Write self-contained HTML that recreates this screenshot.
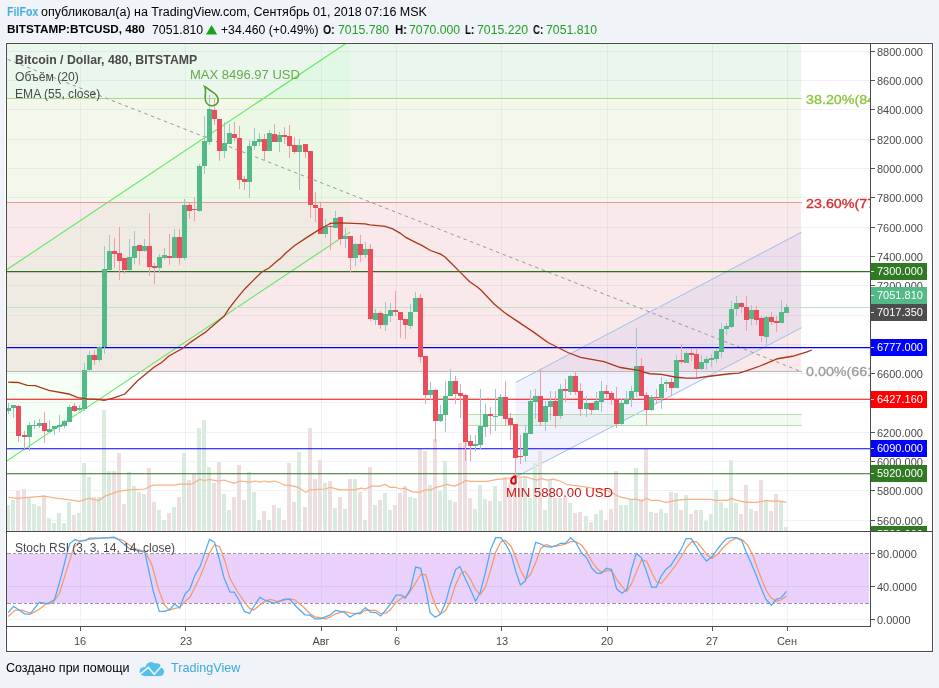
<!DOCTYPE html><html><head><meta charset="utf-8"><style>
*{margin:0;padding:0}
html,body{width:939px;height:688px;overflow:hidden;background:#f0f3f7;font-family:"Liberation Sans",sans-serif;position:relative}
.t{position:absolute;white-space:nowrap;line-height:1;will-change:transform}
</style></head><body>
<svg style="position:absolute;left:0;top:0" width="939" height="688" viewBox="0 0 939 688"><rect x="5" y="42" width="929" height="611" fill="#ffffff"/><rect x="7" y="44" width="794" height="54" fill="#e9f7ec"/><rect x="7" y="98" width="794" height="104" fill="#f4f8eb"/><rect x="7" y="202" width="794" height="170" fill="#f9e9ea"/><g shape-rendering="crispEdges" stroke="rgba(140,155,175,0.13)" stroke-width="1"><line x1="7" x2="870" y1="520.5" y2="520.5"/><line x1="7" x2="870" y1="490.5" y2="490.5"/><line x1="7" x2="870" y1="461.5" y2="461.5"/><line x1="7" x2="870" y1="432.5" y2="432.5"/><line x1="7" x2="870" y1="402.5" y2="402.5"/><line x1="7" x2="870" y1="373.5" y2="373.5"/><line x1="7" x2="870" y1="344.5" y2="344.5"/><line x1="7" x2="870" y1="315.5" y2="315.5"/><line x1="7" x2="870" y1="285.5" y2="285.5"/><line x1="7" x2="870" y1="256.5" y2="256.5"/><line x1="7" x2="870" y1="227.5" y2="227.5"/><line x1="7" x2="870" y1="197.5" y2="197.5"/><line x1="7" x2="870" y1="168.5" y2="168.5"/><line x1="7" x2="870" y1="139.5" y2="139.5"/><line x1="7" x2="870" y1="109.5" y2="109.5"/><line x1="7" x2="870" y1="80.5" y2="80.5"/><line x1="7" x2="870" y1="51.5" y2="51.5"/><line x1="80.5" x2="80.5" y1="44" y2="626"/><line x1="185.5" x2="185.5" y1="44" y2="626"/><line x1="321.5" x2="321.5" y1="44" y2="626"/><line x1="396.5" x2="396.5" y1="44" y2="626"/><line x1="501.5" x2="501.5" y1="44" y2="626"/><line x1="607.5" x2="607.5" y1="44" y2="626"/><line x1="712.5" x2="712.5" y1="44" y2="626"/><line x1="787.5" x2="787.5" y1="44" y2="626"/></g><clipPath id="pc"><rect x="7" y="44" width="863" height="487"/></clipPath><g clip-path="url(#pc)"><polygon points="7,269.50 350,40.72 350,232.12 7,460.90" fill="rgba(175,255,170,0.12)"/><line x1="7" y1="269.50" x2="350" y2="40.72" stroke="#5ee85e" stroke-width="1.1"/><line x1="7" y1="460.90" x2="350" y2="232.12" stroke="#5ee85e" stroke-width="1.1"/><polygon points="515.6,382.50 801.5,232.23 801.5,327.76 515.6,477.00" fill="rgba(110,110,240,0.09)"/><line x1="515.6" y1="382.50" x2="801.5" y2="232.23" stroke="#9cc0ea" stroke-width="1"/><line x1="515.6" y1="477.00" x2="801.5" y2="327.76" stroke="#9cc0ea" stroke-width="1"/><rect x="468" y="414.5" width="333.5" height="10.5" fill="rgba(120,220,120,0.10)"/><line x1="468" x2="801.5" y1="414.5" y2="414.5" stroke="#b5dcaa" stroke-width="1"/><line x1="468" x2="801.5" y1="425.5" y2="425.5" stroke="#b5dcaa" stroke-width="1"/><g shape-rendering="crispEdges"><line x1="7" x2="801.5" y1="98.5" y2="98.5" stroke="#addb7a"/><line x1="7" x2="801.5" y1="202.5" y2="202.5" stroke="#e89a9a"/><line x1="7" x2="801.5" y1="371.5" y2="371.5" stroke="#b8b8b8"/></g><g shape-rendering="crispEdges"><rect x="7" y="505" width="3" height="26" fill="#d9eadf"/><rect x="11" y="500" width="4" height="31" fill="#d9eadf"/><rect x="16" y="491" width="4" height="40" fill="#eddfe0"/><rect x="22" y="489" width="4" height="42" fill="#eddfe0"/><rect x="27" y="498" width="4" height="33" fill="#d9eadf"/><rect x="32" y="504" width="4" height="27" fill="#d9eadf"/><rect x="37" y="506" width="4" height="25" fill="#d9eadf"/><rect x="42" y="495" width="4" height="36" fill="#eddfe0"/><rect x="47" y="518" width="4" height="13" fill="#d9eadf"/><rect x="52" y="523" width="4" height="8" fill="#d9eadf"/><rect x="57" y="513" width="4" height="18" fill="#d9eadf"/><rect x="62" y="523" width="4" height="8" fill="#d9eadf"/><rect x="67" y="502" width="4" height="29" fill="#d9eadf"/><rect x="72" y="515" width="4" height="16" fill="#eddfe0"/><rect x="77" y="513" width="4" height="18" fill="#d9eadf"/><rect x="82" y="463" width="4" height="68" fill="#d9eadf"/><rect x="87" y="477" width="4" height="54" fill="#d9eadf"/><rect x="92" y="497" width="4" height="34" fill="#eddfe0"/><rect x="97" y="497" width="4" height="34" fill="#d9eadf"/><rect x="102" y="410" width="4" height="121" fill="#d9eadf"/><rect x="107" y="471" width="4" height="60" fill="#d9eadf"/><rect x="112" y="471" width="4" height="60" fill="#eddfe0"/><rect x="117" y="453" width="4" height="78" fill="#eddfe0"/><rect x="122" y="504" width="4" height="27" fill="#eddfe0"/><rect x="127" y="472" width="4" height="59" fill="#d9eadf"/><rect x="132" y="486" width="4" height="45" fill="#d9eadf"/><rect x="137" y="492" width="4" height="39" fill="#eddfe0"/><rect x="142" y="494" width="4" height="37" fill="#d9eadf"/><rect x="147" y="468" width="4" height="63" fill="#eddfe0"/><rect x="152" y="502" width="4" height="29" fill="#eddfe0"/><rect x="157" y="510" width="4" height="21" fill="#d9eadf"/><rect x="162" y="520" width="4" height="11" fill="#d9eadf"/><rect x="167" y="513" width="4" height="18" fill="#eddfe0"/><rect x="172" y="507" width="4" height="24" fill="#d9eadf"/><rect x="177" y="497" width="4" height="34" fill="#eddfe0"/><rect x="182" y="453" width="4" height="78" fill="#d9eadf"/><rect x="187" y="480" width="4" height="51" fill="#eddfe0"/><rect x="192" y="474" width="4" height="57" fill="#eddfe0"/><rect x="197" y="428" width="4" height="103" fill="#d9eadf"/><rect x="202" y="420" width="4" height="111" fill="#d9eadf"/><rect x="207" y="467" width="4" height="64" fill="#d9eadf"/><rect x="212" y="483" width="4" height="48" fill="#eddfe0"/><rect x="217" y="462" width="4" height="69" fill="#eddfe0"/><rect x="222" y="494" width="4" height="37" fill="#d9eadf"/><rect x="227" y="510" width="4" height="21" fill="#d9eadf"/><rect x="232" y="497" width="4" height="34" fill="#eddfe0"/><rect x="237" y="465" width="4" height="66" fill="#eddfe0"/><rect x="242" y="500" width="4" height="31" fill="#eddfe0"/><rect x="247" y="472" width="4" height="59" fill="#d9eadf"/><rect x="252" y="492" width="4" height="39" fill="#d9eadf"/><rect x="257" y="520" width="4" height="11" fill="#d9eadf"/><rect x="262" y="511" width="4" height="20" fill="#eddfe0"/><rect x="267" y="520" width="4" height="11" fill="#d9eadf"/><rect x="272" y="505" width="4" height="26" fill="#eddfe0"/><rect x="277" y="508" width="4" height="23" fill="#d9eadf"/><rect x="282" y="520" width="4" height="11" fill="#eddfe0"/><rect x="287" y="463" width="4" height="68" fill="#eddfe0"/><rect x="292" y="502" width="4" height="29" fill="#eddfe0"/><rect x="297" y="452" width="4" height="79" fill="#d9eadf"/><rect x="303" y="507" width="4" height="24" fill="#eddfe0"/><rect x="308" y="428" width="4" height="103" fill="#eddfe0"/><rect x="313" y="479" width="4" height="52" fill="#eddfe0"/><rect x="318" y="460" width="4" height="71" fill="#eddfe0"/><rect x="323" y="483" width="4" height="48" fill="#d9eadf"/><rect x="328" y="481" width="4" height="50" fill="#eddfe0"/><rect x="333" y="508" width="4" height="23" fill="#d9eadf"/><rect x="338" y="497" width="4" height="34" fill="#eddfe0"/><rect x="343" y="509" width="4" height="22" fill="#d9eadf"/><rect x="348" y="479" width="4" height="52" fill="#eddfe0"/><rect x="353" y="479" width="4" height="52" fill="#d9eadf"/><rect x="358" y="492" width="4" height="39" fill="#eddfe0"/><rect x="363" y="520" width="4" height="11" fill="#d9eadf"/><rect x="368" y="467" width="4" height="64" fill="#eddfe0"/><rect x="373" y="505" width="4" height="26" fill="#d9eadf"/><rect x="378" y="500" width="4" height="31" fill="#eddfe0"/><rect x="383" y="493" width="4" height="38" fill="#d9eadf"/><rect x="388" y="510" width="4" height="21" fill="#d9eadf"/><rect x="393" y="505" width="4" height="26" fill="#eddfe0"/><rect x="398" y="493" width="4" height="38" fill="#eddfe0"/><rect x="403" y="486" width="4" height="45" fill="#eddfe0"/><rect x="408" y="497" width="4" height="34" fill="#d9eadf"/><rect x="413" y="498" width="4" height="33" fill="#d9eadf"/><rect x="418" y="449" width="4" height="82" fill="#eddfe0"/><rect x="423" y="451" width="4" height="80" fill="#eddfe0"/><rect x="428" y="485" width="4" height="46" fill="#d9eadf"/><rect x="433" y="439" width="4" height="92" fill="#eddfe0"/><rect x="438" y="491" width="4" height="40" fill="#d9eadf"/><rect x="443" y="461" width="4" height="70" fill="#d9eadf"/><rect x="448" y="500" width="4" height="31" fill="#d9eadf"/><rect x="453" y="502" width="4" height="29" fill="#eddfe0"/><rect x="458" y="443" width="4" height="88" fill="#eddfe0"/><rect x="463" y="442" width="4" height="89" fill="#eddfe0"/><rect x="468" y="498" width="4" height="33" fill="#eddfe0"/><rect x="473" y="509" width="4" height="22" fill="#d9eadf"/><rect x="478" y="485" width="4" height="46" fill="#d9eadf"/><rect x="483" y="499" width="4" height="32" fill="#d9eadf"/><rect x="488" y="501" width="4" height="30" fill="#eddfe0"/><rect x="493" y="486" width="4" height="45" fill="#d9eadf"/><rect x="498" y="501" width="4" height="30" fill="#d9eadf"/><rect x="503" y="477" width="4" height="54" fill="#eddfe0"/><rect x="508" y="483" width="4" height="48" fill="#eddfe0"/><rect x="513" y="474" width="4" height="57" fill="#eddfe0"/><rect x="518" y="477" width="4" height="54" fill="#eddfe0"/><rect x="523" y="476" width="4" height="55" fill="#d9eadf"/><rect x="528" y="498" width="4" height="33" fill="#d9eadf"/><rect x="533" y="463" width="4" height="68" fill="#d9eadf"/><rect x="538" y="451" width="4" height="80" fill="#eddfe0"/><rect x="543" y="510" width="4" height="21" fill="#d9eadf"/><rect x="548" y="480" width="4" height="51" fill="#d9eadf"/><rect x="553" y="498" width="4" height="33" fill="#eddfe0"/><rect x="558" y="498" width="4" height="33" fill="#d9eadf"/><rect x="563" y="497" width="4" height="34" fill="#eddfe0"/><rect x="568" y="503" width="4" height="28" fill="#d9eadf"/><rect x="573" y="513" width="4" height="18" fill="#eddfe0"/><rect x="578" y="512" width="4" height="19" fill="#eddfe0"/><rect x="584" y="516" width="4" height="15" fill="#d9eadf"/><rect x="589" y="522" width="4" height="9" fill="#eddfe0"/><rect x="594" y="514" width="4" height="17" fill="#d9eadf"/><rect x="599" y="510" width="4" height="21" fill="#d9eadf"/><rect x="604" y="520" width="4" height="11" fill="#eddfe0"/><rect x="609" y="509" width="4" height="22" fill="#eddfe0"/><rect x="614" y="471" width="4" height="60" fill="#eddfe0"/><rect x="619" y="505" width="4" height="26" fill="#d9eadf"/><rect x="624" y="505" width="4" height="26" fill="#d9eadf"/><rect x="629" y="500" width="4" height="31" fill="#d9eadf"/><rect x="634" y="468" width="4" height="63" fill="#d9eadf"/><rect x="639" y="499" width="4" height="32" fill="#eddfe0"/><rect x="644" y="449" width="4" height="82" fill="#eddfe0"/><rect x="649" y="512" width="4" height="19" fill="#d9eadf"/><rect x="654" y="513" width="4" height="18" fill="#eddfe0"/><rect x="659" y="509" width="4" height="22" fill="#d9eadf"/><rect x="664" y="513" width="4" height="18" fill="#d9eadf"/><rect x="669" y="492" width="4" height="39" fill="#eddfe0"/><rect x="674" y="493" width="4" height="38" fill="#d9eadf"/><rect x="679" y="510" width="4" height="21" fill="#eddfe0"/><rect x="684" y="495" width="4" height="36" fill="#d9eadf"/><rect x="689" y="514" width="4" height="17" fill="#eddfe0"/><rect x="694" y="510" width="4" height="21" fill="#eddfe0"/><rect x="699" y="510" width="4" height="21" fill="#d9eadf"/><rect x="704" y="521" width="4" height="10" fill="#d9eadf"/><rect x="709" y="514" width="4" height="17" fill="#d9eadf"/><rect x="714" y="490" width="4" height="41" fill="#d9eadf"/><rect x="719" y="502" width="4" height="29" fill="#d9eadf"/><rect x="724" y="508" width="4" height="23" fill="#d9eadf"/><rect x="729" y="460" width="4" height="71" fill="#d9eadf"/><rect x="734" y="503" width="4" height="28" fill="#d9eadf"/><rect x="739" y="514" width="4" height="17" fill="#eddfe0"/><rect x="744" y="485" width="4" height="46" fill="#eddfe0"/><rect x="749" y="509" width="4" height="22" fill="#d9eadf"/><rect x="754" y="511" width="4" height="20" fill="#eddfe0"/><rect x="759" y="480" width="4" height="51" fill="#eddfe0"/><rect x="764" y="501" width="4" height="30" fill="#d9eadf"/><rect x="769" y="511" width="4" height="20" fill="#eddfe0"/><rect x="774" y="494" width="4" height="37" fill="#eddfe0"/><rect x="779" y="502" width="4" height="29" fill="#d9eadf"/><rect x="784" y="527" width="4" height="4" fill="#d9eadf"/></g><polyline points="8.50,497.40 17.00,498.40 29.00,497.40 43.40,496.20 58.00,498.40 68.00,499.60 79.20,501.30 88.60,498.40 98.80,500.50 105.60,495.90 119.20,491.10 129.50,489.90 144.80,489.00 153.30,485.10 160.00,485.10 175.40,485.20 178.90,484.20 190.80,484.20 195.00,482.20 199.60,479.30 204.40,480.50 209.50,479.30 218.00,481.00 224.00,480.00 234.20,483.40 240.20,481.00 250.40,482.20 255.50,481.00 259.80,482.20 264.00,481.00 269.10,482.20 274.30,481.00 279.40,482.70 284.50,485.20 291.30,485.60 298.10,487.30 305.80,492.40 310.00,489.80 325.30,489.00 330.40,487.30 339.80,489.80 354.30,489.80 361.10,488.10 365.40,489.00 371.30,486.10 379.80,486.10 385.00,484.40 390.10,487.30 395.20,487.30 400.30,489.00 404.50,488.10 412.20,491.90 419.00,492.40 425.80,489.80 431.00,489.80 436.00,487.30 441.20,486.10 446.30,484.40 454.80,486.10 459.90,483.90 465.90,480.50 470.00,481.30 475.20,481.30 487.10,481.30 495.70,479.60 507.60,478.40 516.10,477.00 526.30,477.00 533.10,479.10 536.60,480.10 541.70,478.70 546.80,480.10 553.60,479.10 560.40,481.30 567.20,484.70 577.40,485.90 587.70,487.30 597.90,489.00 608.10,490.70 615.00,494.50 620.90,497.20 630.80,499.40 636.70,499.40 641.60,501.20 646.50,498.40 651.40,500.40 658.30,500.40 666.20,502.30 676.10,500.40 685.90,499.40 711.50,499.40 715.50,500.40 727.30,500.40 731.20,498.40 737.10,500.40 746.00,502.30 756.80,502.30 766.70,500.40 772.60,501.20 780.50,501.20 786.40,502.30" fill="none" stroke="#f6b183" stroke-width="1.2"/><line x1="7.5" y1="59.4" x2="798.75" y2="370.6" stroke="#999" stroke-width="1" stroke-dasharray="3.5 3.5"/><g shape-rendering="crispEdges"><line x1="7" x2="870" y1="307.5" y2="307.5" stroke="#bfe0c8"/></g><line x1="7" x2="870" y1="271.6" y2="271.6" stroke="#2e7020" stroke-width="1.1"/><line x1="7" x2="870" y1="347.6" y2="347.6" stroke="#0000ff" stroke-width="1.1"/><line x1="7" x2="870" y1="399.3" y2="399.3" stroke="#ff0000" stroke-width="1.1"/><line x1="7" x2="870" y1="448.7" y2="448.7" stroke="#0000ff" stroke-width="1.1"/><line x1="7" x2="870" y1="473.7" y2="473.7" stroke="#2e7020" stroke-width="1.1"/><g shape-rendering="crispEdges"><rect x="8" y="403" width="1" height="11" fill="#9fc6cf"/><rect x="7" y="408" width="4" height="3" fill="#53b987"/><rect x="13" y="405" width="1" height="13" fill="#9fc6cf"/><rect x="11" y="405" width="5" height="3" fill="#53b987"/><rect x="18" y="405" width="1" height="37" fill="#f29ea8"/><rect x="16" y="406" width="5" height="30" fill="#eb4d5c"/><rect x="24" y="431" width="1" height="18" fill="#f29ea8"/><rect x="22" y="435" width="5" height="2" fill="#eb4d5c"/><rect x="29" y="422" width="1" height="29" fill="#9fc6cf"/><rect x="27" y="425" width="5" height="12" fill="#53b987"/><rect x="34" y="420" width="1" height="9" fill="#9fc6cf"/><rect x="32" y="425" width="5" height="1" fill="#53b987"/><rect x="39" y="419" width="1" height="9" fill="#9fc6cf"/><rect x="37" y="423" width="5" height="3" fill="#53b987"/><rect x="44" y="412" width="1" height="31" fill="#f29ea8"/><rect x="42" y="423" width="5" height="8" fill="#eb4d5c"/><rect x="49" y="420" width="1" height="12" fill="#9fc6cf"/><rect x="47" y="429" width="5" height="3" fill="#53b987"/><rect x="54" y="426" width="1" height="9" fill="#9fc6cf"/><rect x="52" y="426" width="5" height="3" fill="#53b987"/><rect x="59" y="415" width="1" height="17" fill="#9fc6cf"/><rect x="57" y="425" width="5" height="2" fill="#53b987"/><rect x="64" y="420" width="1" height="8" fill="#9fc6cf"/><rect x="62" y="421" width="5" height="5" fill="#53b987"/><rect x="69" y="405" width="1" height="17" fill="#9fc6cf"/><rect x="67" y="407" width="5" height="15" fill="#53b987"/><rect x="74" y="403" width="1" height="9" fill="#f29ea8"/><rect x="72" y="406" width="5" height="5" fill="#eb4d5c"/><rect x="79" y="405" width="1" height="6" fill="#9fc6cf"/><rect x="77" y="408" width="5" height="2" fill="#53b987"/><rect x="84" y="363" width="1" height="48" fill="#9fc6cf"/><rect x="82" y="370" width="5" height="39" fill="#53b987"/><rect x="89" y="351" width="1" height="20" fill="#9fc6cf"/><rect x="87" y="355" width="5" height="15" fill="#53b987"/><rect x="94" y="350" width="1" height="15" fill="#f29ea8"/><rect x="92" y="355" width="5" height="5" fill="#eb4d5c"/><rect x="99" y="346" width="1" height="16" fill="#9fc6cf"/><rect x="97" y="347" width="5" height="13" fill="#53b987"/><rect x="104" y="246" width="1" height="108" fill="#9fc6cf"/><rect x="102" y="269" width="5" height="78" fill="#53b987"/><rect x="109" y="235" width="1" height="35" fill="#9fc6cf"/><rect x="107" y="251" width="5" height="19" fill="#53b987"/><rect x="114" y="238" width="1" height="30" fill="#f29ea8"/><rect x="112" y="251" width="5" height="3" fill="#eb4d5c"/><rect x="119" y="227" width="1" height="53" fill="#f29ea8"/><rect x="117" y="253" width="5" height="8" fill="#eb4d5c"/><rect x="124" y="258" width="1" height="16" fill="#f29ea8"/><rect x="122" y="258" width="5" height="12" fill="#eb4d5c"/><rect x="129" y="239" width="1" height="32" fill="#9fc6cf"/><rect x="127" y="257" width="5" height="13" fill="#53b987"/><rect x="134" y="231" width="1" height="33" fill="#9fc6cf"/><rect x="132" y="246" width="5" height="12" fill="#53b987"/><rect x="139" y="245" width="1" height="20" fill="#f29ea8"/><rect x="137" y="245" width="5" height="6" fill="#eb4d5c"/><rect x="144" y="239" width="1" height="13" fill="#9fc6cf"/><rect x="142" y="246" width="5" height="5" fill="#53b987"/><rect x="149" y="213" width="1" height="63" fill="#f29ea8"/><rect x="147" y="246" width="5" height="21" fill="#eb4d5c"/><rect x="154" y="263" width="1" height="21" fill="#f29ea8"/><rect x="152" y="266" width="5" height="2" fill="#eb4d5c"/><rect x="159" y="254" width="1" height="19" fill="#9fc6cf"/><rect x="157" y="257" width="5" height="11" fill="#53b987"/><rect x="164" y="248" width="1" height="12" fill="#9fc6cf"/><rect x="162" y="255" width="5" height="3" fill="#53b987"/><rect x="169" y="234" width="1" height="31" fill="#f29ea8"/><rect x="167" y="256" width="5" height="2" fill="#eb4d5c"/><rect x="174" y="229" width="1" height="29" fill="#9fc6cf"/><rect x="172" y="237" width="5" height="21" fill="#53b987"/><rect x="179" y="229" width="1" height="36" fill="#f29ea8"/><rect x="177" y="237" width="5" height="21" fill="#eb4d5c"/><rect x="184" y="199" width="1" height="61" fill="#9fc6cf"/><rect x="182" y="205" width="5" height="53" fill="#53b987"/><rect x="189" y="203" width="1" height="16" fill="#f29ea8"/><rect x="187" y="205" width="5" height="6" fill="#eb4d5c"/><rect x="194" y="197" width="1" height="24" fill="#f29ea8"/><rect x="192" y="209" width="5" height="1" fill="#eb4d5c"/><rect x="199" y="164" width="1" height="48" fill="#9fc6cf"/><rect x="197" y="166" width="5" height="45" fill="#53b987"/><rect x="204" y="116" width="1" height="58" fill="#9fc6cf"/><rect x="202" y="141" width="5" height="25" fill="#53b987"/><rect x="209" y="95" width="1" height="50" fill="#9fc6cf"/><rect x="207" y="109" width="5" height="33" fill="#53b987"/><rect x="214" y="99" width="1" height="26" fill="#f29ea8"/><rect x="212" y="110" width="5" height="9" fill="#eb4d5c"/><rect x="219" y="119" width="1" height="42" fill="#f29ea8"/><rect x="217" y="119" width="5" height="32" fill="#eb4d5c"/><rect x="224" y="122" width="1" height="36" fill="#9fc6cf"/><rect x="222" y="143" width="5" height="8" fill="#53b987"/><rect x="229" y="124" width="1" height="20" fill="#9fc6cf"/><rect x="227" y="133" width="5" height="11" fill="#53b987"/><rect x="234" y="122" width="1" height="19" fill="#f29ea8"/><rect x="232" y="134" width="5" height="4" fill="#eb4d5c"/><rect x="239" y="126" width="1" height="63" fill="#f29ea8"/><rect x="237" y="138" width="5" height="42" fill="#eb4d5c"/><rect x="244" y="176" width="1" height="14" fill="#f29ea8"/><rect x="242" y="179" width="5" height="3" fill="#eb4d5c"/><rect x="249" y="140" width="1" height="58" fill="#9fc6cf"/><rect x="247" y="146" width="5" height="36" fill="#53b987"/><rect x="254" y="128" width="1" height="22" fill="#9fc6cf"/><rect x="252" y="141" width="5" height="5" fill="#53b987"/><rect x="259" y="133" width="1" height="13" fill="#9fc6cf"/><rect x="257" y="139" width="5" height="3" fill="#53b987"/><rect x="264" y="134" width="1" height="27" fill="#f29ea8"/><rect x="262" y="139" width="5" height="12" fill="#eb4d5c"/><rect x="269" y="130" width="1" height="21" fill="#9fc6cf"/><rect x="267" y="133" width="5" height="18" fill="#53b987"/><rect x="274" y="124" width="1" height="18" fill="#f29ea8"/><rect x="272" y="134" width="5" height="8" fill="#eb4d5c"/><rect x="279" y="132" width="1" height="20" fill="#9fc6cf"/><rect x="277" y="135" width="5" height="7" fill="#53b987"/><rect x="284" y="127" width="1" height="17" fill="#f29ea8"/><rect x="282" y="135" width="5" height="2" fill="#eb4d5c"/><rect x="289" y="125" width="1" height="33" fill="#f29ea8"/><rect x="287" y="136" width="5" height="10" fill="#eb4d5c"/><rect x="294" y="137" width="1" height="17" fill="#f29ea8"/><rect x="292" y="145" width="5" height="7" fill="#eb4d5c"/><rect x="299" y="139" width="1" height="51" fill="#9fc6cf"/><rect x="297" y="145" width="5" height="7" fill="#53b987"/><rect x="305" y="144" width="1" height="14" fill="#f29ea8"/><rect x="303" y="144" width="5" height="8" fill="#eb4d5c"/><rect x="310" y="151" width="1" height="67" fill="#f29ea8"/><rect x="308" y="151" width="5" height="54" fill="#eb4d5c"/><rect x="315" y="192" width="1" height="30" fill="#f29ea8"/><rect x="313" y="205" width="5" height="3" fill="#eb4d5c"/><rect x="320" y="203" width="1" height="31" fill="#f29ea8"/><rect x="318" y="208" width="5" height="26" fill="#eb4d5c"/><rect x="325" y="219" width="1" height="19" fill="#9fc6cf"/><rect x="323" y="226" width="5" height="8" fill="#53b987"/><rect x="330" y="222" width="1" height="28" fill="#f29ea8"/><rect x="328" y="226" width="5" height="1" fill="#eb4d5c"/><rect x="335" y="211" width="1" height="17" fill="#9fc6cf"/><rect x="333" y="218" width="5" height="10" fill="#53b987"/><rect x="340" y="217" width="1" height="28" fill="#f29ea8"/><rect x="338" y="217" width="5" height="22" fill="#eb4d5c"/><rect x="345" y="228" width="1" height="20" fill="#9fc6cf"/><rect x="343" y="236" width="5" height="3" fill="#53b987"/><rect x="350" y="236" width="1" height="36" fill="#f29ea8"/><rect x="348" y="236" width="5" height="22" fill="#eb4d5c"/><rect x="355" y="243" width="1" height="23" fill="#9fc6cf"/><rect x="353" y="244" width="5" height="14" fill="#53b987"/><rect x="360" y="235" width="1" height="27" fill="#f29ea8"/><rect x="358" y="244" width="5" height="11" fill="#eb4d5c"/><rect x="365" y="242" width="1" height="16" fill="#9fc6cf"/><rect x="363" y="249" width="5" height="6" fill="#53b987"/><rect x="370" y="244" width="1" height="77" fill="#f29ea8"/><rect x="368" y="249" width="5" height="70" fill="#eb4d5c"/><rect x="375" y="309" width="1" height="16" fill="#9fc6cf"/><rect x="373" y="313" width="5" height="7" fill="#53b987"/><rect x="380" y="311" width="1" height="18" fill="#f29ea8"/><rect x="378" y="313" width="5" height="12" fill="#eb4d5c"/><rect x="385" y="302" width="1" height="29" fill="#9fc6cf"/><rect x="383" y="314" width="5" height="11" fill="#53b987"/><rect x="390" y="303" width="1" height="19" fill="#9fc6cf"/><rect x="388" y="310" width="5" height="6" fill="#53b987"/><rect x="395" y="291" width="1" height="25" fill="#f29ea8"/><rect x="393" y="310" width="5" height="2" fill="#eb4d5c"/><rect x="400" y="312" width="1" height="26" fill="#f29ea8"/><rect x="398" y="312" width="5" height="8" fill="#eb4d5c"/><rect x="405" y="319" width="1" height="20" fill="#f29ea8"/><rect x="403" y="319" width="5" height="6" fill="#eb4d5c"/><rect x="410" y="304" width="1" height="25" fill="#9fc6cf"/><rect x="408" y="312" width="5" height="14" fill="#53b987"/><rect x="415" y="292" width="1" height="20" fill="#9fc6cf"/><rect x="413" y="298" width="5" height="14" fill="#53b987"/><rect x="420" y="294" width="1" height="69" fill="#f29ea8"/><rect x="418" y="298" width="5" height="59" fill="#eb4d5c"/><rect x="425" y="356" width="1" height="48" fill="#f29ea8"/><rect x="423" y="356" width="5" height="39" fill="#eb4d5c"/><rect x="430" y="382" width="1" height="18" fill="#9fc6cf"/><rect x="428" y="390" width="5" height="5" fill="#53b987"/><rect x="435" y="389" width="1" height="53" fill="#f29ea8"/><rect x="433" y="390" width="5" height="31" fill="#eb4d5c"/><rect x="440" y="405" width="1" height="17" fill="#9fc6cf"/><rect x="438" y="414" width="5" height="7" fill="#53b987"/><rect x="445" y="381" width="1" height="51" fill="#9fc6cf"/><rect x="443" y="396" width="5" height="19" fill="#53b987"/><rect x="450" y="369" width="1" height="27" fill="#9fc6cf"/><rect x="448" y="381" width="5" height="15" fill="#53b987"/><rect x="455" y="376" width="1" height="28" fill="#f29ea8"/><rect x="453" y="381" width="5" height="13" fill="#eb4d5c"/><rect x="460" y="384" width="1" height="34" fill="#f29ea8"/><rect x="458" y="393" width="5" height="3" fill="#eb4d5c"/><rect x="465" y="394" width="1" height="67" fill="#f29ea8"/><rect x="463" y="395" width="5" height="47" fill="#eb4d5c"/><rect x="470" y="435" width="1" height="26" fill="#f29ea8"/><rect x="468" y="441" width="5" height="5" fill="#eb4d5c"/><rect x="475" y="435" width="1" height="16" fill="#9fc6cf"/><rect x="473" y="444" width="5" height="2" fill="#53b987"/><rect x="480" y="389" width="1" height="60" fill="#9fc6cf"/><rect x="478" y="426" width="5" height="19" fill="#53b987"/><rect x="485" y="404" width="1" height="33" fill="#9fc6cf"/><rect x="483" y="414" width="5" height="13" fill="#53b987"/><rect x="490" y="407" width="1" height="27" fill="#f29ea8"/><rect x="488" y="414" width="5" height="2" fill="#eb4d5c"/><rect x="495" y="389" width="1" height="42" fill="#9fc6cf"/><rect x="493" y="416" width="5" height="1" fill="#53b987"/><rect x="500" y="394" width="1" height="22" fill="#9fc6cf"/><rect x="498" y="397" width="5" height="19" fill="#53b987"/><rect x="505" y="381" width="1" height="45" fill="#f29ea8"/><rect x="503" y="397" width="5" height="22" fill="#eb4d5c"/><rect x="510" y="413" width="1" height="27" fill="#f29ea8"/><rect x="508" y="418" width="5" height="7" fill="#eb4d5c"/><rect x="515" y="424" width="1" height="55" fill="#f29ea8"/><rect x="513" y="424" width="5" height="34" fill="#eb4d5c"/><rect x="520" y="435" width="1" height="29" fill="#f29ea8"/><rect x="518" y="456" width="5" height="1" fill="#eb4d5c"/><rect x="525" y="426" width="1" height="36" fill="#9fc6cf"/><rect x="523" y="433" width="5" height="23" fill="#53b987"/><rect x="530" y="390" width="1" height="44" fill="#9fc6cf"/><rect x="528" y="401" width="5" height="33" fill="#53b987"/><rect x="535" y="389" width="1" height="30" fill="#9fc6cf"/><rect x="533" y="396" width="5" height="6" fill="#53b987"/><rect x="540" y="369" width="1" height="57" fill="#f29ea8"/><rect x="538" y="396" width="5" height="26" fill="#eb4d5c"/><rect x="545" y="401" width="1" height="30" fill="#9fc6cf"/><rect x="543" y="406" width="5" height="16" fill="#53b987"/><rect x="550" y="391" width="1" height="29" fill="#9fc6cf"/><rect x="548" y="401" width="5" height="6" fill="#53b987"/><rect x="555" y="391" width="1" height="37" fill="#f29ea8"/><rect x="553" y="401" width="5" height="15" fill="#eb4d5c"/><rect x="560" y="384" width="1" height="35" fill="#9fc6cf"/><rect x="558" y="389" width="5" height="27" fill="#53b987"/><rect x="565" y="379" width="1" height="23" fill="#f29ea8"/><rect x="563" y="389" width="5" height="2" fill="#eb4d5c"/><rect x="570" y="375" width="1" height="20" fill="#9fc6cf"/><rect x="568" y="376" width="5" height="16" fill="#53b987"/><rect x="575" y="371" width="1" height="24" fill="#f29ea8"/><rect x="573" y="376" width="5" height="16" fill="#eb4d5c"/><rect x="580" y="383" width="1" height="33" fill="#f29ea8"/><rect x="578" y="391" width="5" height="18" fill="#eb4d5c"/><rect x="586" y="396" width="1" height="21" fill="#9fc6cf"/><rect x="584" y="403" width="5" height="6" fill="#53b987"/><rect x="591" y="403" width="1" height="12" fill="#f29ea8"/><rect x="589" y="403" width="5" height="7" fill="#eb4d5c"/><rect x="596" y="392" width="1" height="18" fill="#9fc6cf"/><rect x="594" y="401" width="5" height="9" fill="#53b987"/><rect x="601" y="381" width="1" height="31" fill="#9fc6cf"/><rect x="599" y="391" width="5" height="11" fill="#53b987"/><rect x="606" y="385" width="1" height="13" fill="#f29ea8"/><rect x="604" y="391" width="5" height="3" fill="#eb4d5c"/><rect x="611" y="391" width="1" height="14" fill="#f29ea8"/><rect x="609" y="393" width="5" height="6" fill="#eb4d5c"/><rect x="616" y="387" width="1" height="41" fill="#f29ea8"/><rect x="614" y="399" width="5" height="25" fill="#eb4d5c"/><rect x="621" y="398" width="1" height="27" fill="#9fc6cf"/><rect x="619" y="403" width="5" height="21" fill="#53b987"/><rect x="626" y="391" width="1" height="14" fill="#9fc6cf"/><rect x="624" y="399" width="5" height="5" fill="#53b987"/><rect x="631" y="386" width="1" height="21" fill="#9fc6cf"/><rect x="629" y="391" width="5" height="8" fill="#53b987"/><rect x="636" y="328" width="1" height="69" fill="#9fc6cf"/><rect x="634" y="366" width="5" height="26" fill="#53b987"/><rect x="641" y="358" width="1" height="38" fill="#f29ea8"/><rect x="639" y="366" width="5" height="30" fill="#eb4d5c"/><rect x="646" y="392" width="1" height="33" fill="#f29ea8"/><rect x="644" y="395" width="5" height="15" fill="#eb4d5c"/><rect x="651" y="395" width="1" height="16" fill="#9fc6cf"/><rect x="649" y="397" width="5" height="13" fill="#53b987"/><rect x="656" y="389" width="1" height="15" fill="#f29ea8"/><rect x="654" y="397" width="5" height="1" fill="#eb4d5c"/><rect x="661" y="377" width="1" height="32" fill="#9fc6cf"/><rect x="659" y="384" width="5" height="14" fill="#53b987"/><rect x="666" y="380" width="1" height="12" fill="#9fc6cf"/><rect x="664" y="382" width="5" height="2" fill="#53b987"/><rect x="671" y="378" width="1" height="18" fill="#f29ea8"/><rect x="669" y="382" width="5" height="6" fill="#eb4d5c"/><rect x="676" y="355" width="1" height="33" fill="#9fc6cf"/><rect x="674" y="360" width="5" height="28" fill="#53b987"/><rect x="681" y="344" width="1" height="20" fill="#f29ea8"/><rect x="679" y="360" width="5" height="2" fill="#eb4d5c"/><rect x="686" y="351" width="1" height="12" fill="#9fc6cf"/><rect x="684" y="353" width="5" height="10" fill="#53b987"/><rect x="691" y="348" width="1" height="13" fill="#f29ea8"/><rect x="689" y="353" width="5" height="2" fill="#eb4d5c"/><rect x="696" y="348" width="1" height="30" fill="#f29ea8"/><rect x="694" y="354" width="5" height="15" fill="#eb4d5c"/><rect x="701" y="355" width="1" height="15" fill="#9fc6cf"/><rect x="699" y="362" width="5" height="7" fill="#53b987"/><rect x="706" y="356" width="1" height="14" fill="#9fc6cf"/><rect x="704" y="359" width="5" height="4" fill="#53b987"/><rect x="711" y="354" width="1" height="13" fill="#9fc6cf"/><rect x="709" y="358" width="5" height="2" fill="#53b987"/><rect x="716" y="348" width="1" height="15" fill="#9fc6cf"/><rect x="714" y="351" width="5" height="8" fill="#53b987"/><rect x="721" y="323" width="1" height="35" fill="#9fc6cf"/><rect x="719" y="329" width="5" height="23" fill="#53b987"/><rect x="726" y="323" width="1" height="12" fill="#9fc6cf"/><rect x="724" y="326" width="5" height="3" fill="#53b987"/><rect x="731" y="301" width="1" height="27" fill="#9fc6cf"/><rect x="729" y="309" width="5" height="18" fill="#53b987"/><rect x="736" y="296" width="1" height="20" fill="#9fc6cf"/><rect x="734" y="303" width="5" height="6" fill="#53b987"/><rect x="741" y="302" width="1" height="11" fill="#f29ea8"/><rect x="739" y="303" width="5" height="4" fill="#eb4d5c"/><rect x="746" y="296" width="1" height="35" fill="#f29ea8"/><rect x="744" y="307" width="5" height="13" fill="#eb4d5c"/><rect x="751" y="305" width="1" height="20" fill="#9fc6cf"/><rect x="749" y="310" width="5" height="9" fill="#53b987"/><rect x="756" y="306" width="1" height="19" fill="#f29ea8"/><rect x="754" y="310" width="5" height="10" fill="#eb4d5c"/><rect x="761" y="316" width="1" height="26" fill="#f29ea8"/><rect x="759" y="318" width="5" height="18" fill="#eb4d5c"/><rect x="766" y="316" width="1" height="29" fill="#9fc6cf"/><rect x="764" y="317" width="5" height="20" fill="#53b987"/><rect x="771" y="312" width="1" height="13" fill="#f29ea8"/><rect x="769" y="317" width="5" height="5" fill="#eb4d5c"/><rect x="776" y="316" width="1" height="16" fill="#f29ea8"/><rect x="774" y="321" width="5" height="2" fill="#eb4d5c"/><rect x="781" y="300" width="1" height="23" fill="#9fc6cf"/><rect x="779" y="312" width="5" height="11" fill="#53b987"/><rect x="786" y="304" width="1" height="9" fill="#9fc6cf"/><rect x="784" y="307" width="5" height="6" fill="#53b987"/></g><polyline points="8.10,382.20 18.10,382.50 27.20,385.30 35.30,385.60 48.90,390.30 68.80,394.00 77.80,397.60 86.90,398.80 97.80,399.40 104.10,400.30 112.20,398.30 124.90,394.00 137.60,380.70 153.90,367.20 161.60,362.50 168.90,356.00 182.00,348.70 190.70,342.10 200.00,335.70 205.20,332.40 210.50,327.80 219.60,320.00 224.20,316.10 228.80,308.90 235.30,300.40 244.50,289.20 252.30,281.40 261.50,272.20 269.30,267.70 278.50,259.80 280.00,258.90 285.20,253.60 294.40,245.80 306.20,237.90 318.00,230.40 324.50,226.80 330.40,223.30 340.20,222.90 353.30,223.30 365.00,223.80 370.00,224.80 385.20,226.40 392.70,228.90 400.00,233.10 405.80,237.40 414.50,241.80 421.80,245.40 430.50,250.50 440.70,254.10 445.00,257.00 452.30,264.30 459.60,271.60 469.70,281.70 477.00,286.80 480.90,290.00 494.40,304.30 504.40,312.60 515.30,319.90 534.30,332.60 547.90,342.50 557.00,347.00 567.80,352.50 580.50,357.40 604.00,361.60 620.40,367.50 640.00,370.60 642.50,371.90 650.00,373.75 661.25,374.40 676.25,377.25 686.25,378.10 696.25,378.10 707.50,376.50 717.50,375.25 730.00,373.75 738.75,373.10 747.00,370.60 760.00,366.00 777.50,358.75 792.50,356.25 807.00,351.90 811.90,350.00" fill="none" stroke="#ab361a" stroke-width="1.3"/><path d="M204.7,86.6 C208,88 209.5,90.5 212.5,92 C216,94 218.2,97 218.2,100.5 C218.2,104 214.5,106 211.5,105.8 C207.5,105.5 205.2,102 205.2,98 C205.2,93.5 206.2,89.5 204.7,86.6 Z" fill="none" stroke="#fff" stroke-width="3.5" opacity="0.7"/><path d="M204.7,86.6 C208,88 209.5,90.5 212.5,92 C216,94 218.2,97 218.2,100.5 C218.2,104 214.5,106 211.5,105.8 C207.5,105.5 205.2,102 205.2,98 C205.2,93.5 206.2,89.5 204.7,86.6 Z" fill="none" stroke="#57a03a" stroke-width="1.8"/><path transform="translate(-0.2,0.7)" d="M515.6,475.6 C513.2,475.8 511.3,478.2 511.3,480.2 C511.3,482.2 512.7,483 514.2,483 C515.3,483 515.9,482.3 515.9,480.8 Z" fill="none" stroke="#d80808" stroke-width="2" stroke-linejoin="round"/></g><rect x="7" y="554" width="862" height="49" fill="#e9d1fc"/><g shape-rendering="crispEdges" stroke="rgba(140,155,175,0.13)" stroke-width="1"><line x1="80.5" x2="80.5" y1="554" y2="603"/><line x1="185.5" x2="185.5" y1="554" y2="603"/><line x1="321.5" x2="321.5" y1="554" y2="603"/><line x1="396.5" x2="396.5" y1="554" y2="603"/><line x1="501.5" x2="501.5" y1="554" y2="603"/><line x1="607.5" x2="607.5" y1="554" y2="603"/><line x1="712.5" x2="712.5" y1="554" y2="603"/><line x1="787.5" x2="787.5" y1="554" y2="603"/></g><line x1="7" x2="869" y1="586.5" y2="586.5" stroke="#dcc6ef" stroke-width="1" shape-rendering="crispEdges"/><line x1="7" x2="869" y1="619.5" y2="619.5" stroke="#eef1f5" stroke-width="1" shape-rendering="crispEdges"/><line x1="7" x2="869" y1="553.5" y2="553.5" stroke="#a095a8" stroke-width="1" stroke-dasharray="3.5 2" shape-rendering="crispEdges"/><line x1="7" x2="869" y1="603.5" y2="603.5" stroke="#a095a8" stroke-width="1" stroke-dasharray="3.5 2" shape-rendering="crispEdges"/><polyline points="8.20,616.50 15.30,610.10 22.10,610.10 31.50,613.50 39.20,609.20 46.00,604.10 52.80,602.90 59.60,593.00 66.40,570.90 73.30,548.70 80.00,541.10 88.60,539.40 102.20,538.20 114.10,537.70 122.70,540.20 134.60,548.70 144.80,551.30 151.60,564.10 158.40,588.80 164.40,605.00 169.50,610.10 174.60,608.40 179.70,607.50 184.80,601.60 189.90,597.30 200.10,576.80 209.50,553.00 214.60,544.50 219.70,547.00 224.80,560.70 230.00,578.60 236.80,590.50 243.60,600.70 249.50,608.40 253.80,610.10 259.80,605.00 265.70,600.70 270.80,599.50 277.70,601.60 289.60,599.00 294.70,599.80 303.20,606.70 310.00,613.80 315.10,616.90 325.30,618.90 330.40,616.90 335.60,613.80 344.10,611.40 350.90,613.10 360.30,613.80 365.40,610.10 375.60,610.40 380.70,613.50 385.80,613.10 390.10,610.10 396.00,602.40 402.80,597.30 408.00,594.70 415.60,582.80 420.70,574.30 425.80,574.60 431.00,593.00 436.10,606.70 440.30,613.80 445.40,610.90 450.50,600.70 455.70,584.50 460.80,573.40 465.00,571.20 470.10,578.60 475.60,589.60 480.30,594.40 485.40,587.10 490.60,570.00 495.70,552.10 500.80,541.90 505.00,540.20 511.00,546.20 516.10,558.10 520.40,570.00 525.50,579.40 530.60,574.30 535.70,562.40 540.80,548.70 545.90,544.50 551.90,546.70 560.40,545.30 565.50,544.00 570.60,541.60 575.70,541.60 581.70,545.30 586.80,552.10 591.90,561.50 597.00,568.30 601.30,572.20 606.40,570.90 611.50,570.50 616.60,579.40 621.70,586.20 626.70,591.30 631.50,583.70 636.30,572.20 641.50,559.70 646.80,561.60 651.60,572.20 656.40,581.80 661.20,583.30 666.00,577.90 675.60,565.50 681.30,556.80 686.10,548.20 691.90,541.50 696.70,541.90 701.50,547.60 707.20,554.90 712.00,558.40 717.80,554.00 723.50,547.30 730.20,541.10 736.90,537.70 742.70,540.00 747.50,545.00 752.30,554.00 757.10,567.40 761.80,579.80 766.60,591.30 771.40,598.00 776.20,601.30 781.00,600.00 786.40,596.10" fill="none" stroke="#f59a66" stroke-width="1.25"/><polyline points="8.20,612.60 13.60,606.30 18.70,609.70 24.70,613.80 29.80,614.30 39.20,602.40 47.70,603.60 54.50,599.80 61.30,576.00 67.30,552.10 69.80,543.60 75.00,539.40 79.20,541.10 85.20,540.60 89.40,538.20 98.80,538.20 109.00,537.70 114.10,537.20 119.30,540.20 129.50,548.70 136.30,550.40 144.80,552.10 153.30,591.30 159.30,611.40 164.40,611.40 169.50,609.70 174.60,604.10 179.70,608.00 184.80,594.40 189.90,588.80 195.00,575.10 200.10,566.60 204.40,553.90 209.50,539.40 214.60,542.30 219.70,560.70 224.00,577.70 230.00,592.20 234.20,592.20 239.30,600.70 244.40,611.40 249.50,613.50 254.70,605.00 259.80,597.30 264.90,600.20 274.30,603.30 284.50,599.00 289.60,599.00 296.40,606.70 304.90,614.80 310.00,615.20 315.10,618.90 320.20,618.90 325.30,616.90 330.40,614.80 335.60,610.40 344.10,612.10 350.00,617.20 355.10,613.80 360.30,612.60 365.40,607.50 370.50,612.10 375.60,612.60 380.70,616.00 385.80,610.10 390.90,603.30 396.00,595.10 401.10,595.10 405.40,598.10 410.50,588.80 415.60,567.10 420.70,568.30 425.80,589.60 430.10,612.60 435.20,617.20 440.30,614.30 445.40,603.30 450.50,584.50 455.70,569.50 459.90,566.60 465.00,578.00 470.10,588.80 475.60,601.20 480.30,592.20 485.40,572.60 490.60,549.60 495.70,537.70 500.80,537.70 505.90,544.50 511.00,553.90 516.10,572.60 520.40,584.90 525.50,580.80 530.60,561.50 535.70,542.30 540.80,544.00 545.90,546.70 551.00,547.00 556.10,545.70 560.40,543.30 565.50,543.30 570.60,537.70 575.70,542.30 581.70,553.00 586.80,558.10 591.90,568.30 597.00,573.40 601.30,573.40 606.40,568.30 611.50,569.50 616.60,588.80 621.90,593.30 626.70,589.80 631.50,569.30 636.30,553.40 641.50,557.80 646.80,572.20 651.60,587.10 656.40,587.10 661.20,576.00 666.00,569.30 670.80,565.50 675.60,557.80 681.30,549.20 686.10,538.60 691.30,538.60 696.30,546.30 701.50,554.90 706.60,561.10 712.00,556.80 716.80,550.10 721.60,543.80 726.40,538.60 731.20,537.70 736.00,537.70 741.70,540.50 746.50,553.00 751.30,563.50 756.10,575.00 760.90,587.50 765.70,599.00 771.40,605.30 776.20,599.40 781.00,598.00 786.40,591.30" fill="none" stroke="#4eaaf3" stroke-width="1.25"/><g shape-rendering="crispEdges" fill="#4a4a4a"><rect x="6" y="43" width="927" height="1"/><rect x="6" y="651" width="927" height="1"/><rect x="6" y="43" width="1" height="609"/><rect x="932" y="43" width="1" height="609"/><rect x="870" y="43" width="1" height="584"/><rect x="6" y="531" width="927" height="1"/><rect x="6" y="626" width="865" height="1"/></g><g shape-rendering="crispEdges" fill="#555"><rect x="871" y="520" width="4" height="1"/><rect x="871" y="490" width="4" height="1"/><rect x="871" y="461" width="4" height="1"/><rect x="871" y="432" width="4" height="1"/><rect x="871" y="402" width="4" height="1"/><rect x="871" y="373" width="4" height="1"/><rect x="871" y="344" width="4" height="1"/><rect x="871" y="315" width="4" height="1"/><rect x="871" y="285" width="4" height="1"/><rect x="871" y="256" width="4" height="1"/><rect x="871" y="227" width="4" height="1"/><rect x="871" y="197" width="4" height="1"/><rect x="871" y="168" width="4" height="1"/><rect x="871" y="139" width="4" height="1"/><rect x="871" y="109" width="4" height="1"/><rect x="871" y="80" width="4" height="1"/><rect x="871" y="51" width="4" height="1"/><rect x="871" y="553" width="4" height="1"/><rect x="871" y="586" width="4" height="1"/><rect x="871" y="619" width="4" height="1"/><rect x="80" y="627" width="1" height="4"/><rect x="185" y="627" width="1" height="4"/><rect x="321" y="627" width="1" height="4"/><rect x="396" y="627" width="1" height="4"/><rect x="501" y="627" width="1" height="4"/><rect x="607" y="627" width="1" height="4"/><rect x="712" y="627" width="1" height="4"/><rect x="787" y="627" width="1" height="4"/></g></svg>
<div style="position:absolute;left:0;top:0;width:870px;height:531px;overflow:hidden"><div class="t" style="left:806px;top:92.5px;font-size:13px;color:#8cc63f;-webkit-text-stroke:0.35px #8cc63f;transform:scaleX(1.1);transform-origin:0 0">38.20%(8480.6)</div><div class="t" style="left:806px;top:196.7px;font-size:13px;color:#d32f2f;-webkit-text-stroke:0.35px #d32f2f;transform:scaleX(1.1);transform-origin:0 0">23.60%(7771.7)</div><div class="t" style="left:806px;top:365.3px;font-size:13px;color:#9e9e9e;-webkit-text-stroke:0.35px #9e9e9e;transform:scaleX(1.1);transform-origin:0 0">0.00%(6613.0)</div></div>
<div class="t" style="left:877px;top:516px;font-size:11px;color:#4a4a4a;">5600.000</div><div class="t" style="left:877px;top:486px;font-size:11px;color:#4a4a4a;">5800.000</div><div class="t" style="left:877px;top:457px;font-size:11px;color:#4a4a4a;">6000.000</div><div class="t" style="left:877px;top:428px;font-size:11px;color:#4a4a4a;">6200.000</div><div class="t" style="left:877px;top:398px;font-size:11px;color:#4a4a4a;">6400.000</div><div class="t" style="left:877px;top:369px;font-size:11px;color:#4a4a4a;">6600.000</div><div class="t" style="left:877px;top:340px;font-size:11px;color:#4a4a4a;">6800.000</div><div class="t" style="left:877px;top:311px;font-size:11px;color:#4a4a4a;">7000.000</div><div class="t" style="left:877px;top:281px;font-size:11px;color:#4a4a4a;">7200.000</div><div class="t" style="left:877px;top:252px;font-size:11px;color:#4a4a4a;">7400.000</div><div class="t" style="left:877px;top:223px;font-size:11px;color:#4a4a4a;">7600.000</div><div class="t" style="left:877px;top:193px;font-size:11px;color:#4a4a4a;">7800.000</div><div class="t" style="left:877px;top:164px;font-size:11px;color:#4a4a4a;">8000.000</div><div class="t" style="left:877px;top:135px;font-size:11px;color:#4a4a4a;">8200.000</div><div class="t" style="left:877px;top:105px;font-size:11px;color:#4a4a4a;">8400.000</div><div class="t" style="left:877px;top:76px;font-size:11px;color:#4a4a4a;">8600.000</div><div class="t" style="left:877px;top:47px;font-size:11px;color:#4a4a4a;">8800.000</div><div class="t" style="left:877px;top:549px;font-size:11px;color:#4a4a4a;">80.0000</div><div class="t" style="left:877px;top:582px;font-size:11px;color:#4a4a4a;">40.0000</div><div class="t" style="left:877px;top:615px;font-size:11px;color:#4a4a4a;">0.0000</div><div class="t" style="left:50.3px;width:60px;text-align:center;top:636px;font-size:11px;color:#4a4a4a;">16</div><div class="t" style="left:155.5px;width:60px;text-align:center;top:636px;font-size:11px;color:#4a4a4a;">23</div><div class="t" style="left:291.3px;width:60px;text-align:center;top:636px;font-size:11px;color:#4a4a4a;">Авг</div><div class="t" style="left:366.5px;width:60px;text-align:center;top:636px;font-size:11px;color:#4a4a4a;">6</div><div class="t" style="left:471.7px;width:60px;text-align:center;top:636px;font-size:11px;color:#4a4a4a;">13</div><div class="t" style="left:577.4px;width:60px;text-align:center;top:636px;font-size:11px;color:#4a4a4a;">20</div><div class="t" style="left:682.1px;width:60px;text-align:center;top:636px;font-size:11px;color:#4a4a4a;">27</div><div class="t" style="left:757.4px;width:60px;text-align:center;top:636px;font-size:11px;color:#4a4a4a;">Сен</div><div class="t" style="left:15px;top:54px;font-size:12.3px;font-weight:bold;color:#4a4a4a">Bitcoin / Dollar, 480, BITSTAMP</div><div class="t" style="left:15px;top:71px;font-size:12.2px;color:#4a4a4a">Объём (20)</div><div class="t" style="left:15px;top:88px;font-size:12.1px;color:#4a4a4a">EMA (55, close)</div><div class="t" style="left:190px;top:68px;font-size:13px;color:#6aa84f">MAX 8496.97 USD</div><div class="t" style="left:506px;top:486px;font-size:13.2px;color:#d01818">MIN 5880.00 USD</div><div class="t" style="left:15px;top:542px;font-size:12px;color:#4a4a4a">Stoch RSI (3, 3, 14, 14, close)</div><div class="t" style="left:6.6px;top:6px;font-size:12.4px;font-weight:bold;color:#3fa9e0;transform:scaleX(0.86);transform-origin:0 0">FilFox</div><div class="t" style="left:41.3px;top:6px;font-size:12.5px;color:#000">опубликовал(а) на TradingView.com, Сентябрь 01, 2018 07:16 MSK</div><div class="t" style="left:6.6px;top:23px;font-size:11.73px;font-weight:bold;color:#000">BITSTAMP:BTCUSD, 480</div><div class="t" style="left:151.5px;top:24px;font-size:12.25px;color:#000">7051.810</div><svg style="position:absolute;left:206px;top:25px" width="12" height="10"><path d="M5.6,0 L11.2,9.5 L0,9.5 Z" fill="#1aa31a"/></svg><div class="t" style="left:220.5px;top:24px;font-size:12.18px;color:#000">+34.460 (+0.49%)</div><div class="t" style="left:323.3px;top:24px;font-size:12.2px;font-weight:bold;color:#000;transform:scaleX(0.856);transform-origin:0 0">O:</div><div class="t" style="left:338.2px;top:24px;font-size:12.25px;color:#22a022">7015.780</div><div class="t" style="left:394.5px;top:24px;font-size:12.2px;font-weight:bold;color:#000;transform:scaleX(0.93);transform-origin:0 0">H:</div><div class="t" style="left:409.2px;top:24px;font-size:12.25px;color:#22a022">7070.000</div><div class="t" style="left:465.4px;top:24px;font-size:12.2px;font-weight:bold;color:#000;transform:scaleX(0.8);transform-origin:0 0">L:</div><div class="t" style="left:476.6px;top:24px;font-size:12.25px;color:#22a022">7015.220</div><div class="t" style="left:533.3px;top:24px;font-size:12.2px;font-weight:bold;color:#000;transform:scaleX(0.79);transform-origin:0 0">C:</div><div class="t" style="left:545.7px;top:24px;font-size:12.25px;color:#22a022">7051.810</div><div class="t" style="left:6px;top:662px;font-size:12.5px;color:#000">Создано при помощи</div><svg style="position:absolute;left:136px;top:656px" width="32" height="24" viewBox="0 0 32 24"><g fill="#58bfe8"><circle cx="8" cy="15.4" r="4.4"/><circle cx="15" cy="11.6" r="5.6"/><ellipse cx="20.3" cy="10.6" rx="4.3" ry="3.4"/><circle cx="24" cy="15.7" r="4.2"/><rect x="8" y="13" width="16" height="7.1"/></g><path d="M3.8,18.4 L12.4,11.4 L18.1,18.3 L25.2,10.4" fill="none" stroke="#f0f3f7" stroke-width="1.5"/></svg><div class="t" style="left:170.5px;top:662px;font-size:12.6px;color:#3fa9e0">TradingView</div>
<div class="t" style="left:871px;top:263px;width:56px;height:17px;background:#2f7a22"></div><div class="t" style="left:877px;top:266px;font-size:11px;color:#fff">7300.000</div><div style="position:absolute;left:871px;top:271px;width:3px;height:1px;background:rgba(255,255,255,0.8)"></div><div class="t" style="left:871px;top:287px;width:56px;height:17px;background:#53b987"></div><div class="t" style="left:877px;top:290px;font-size:11px;color:#fff">7051.810</div><div style="position:absolute;left:871px;top:295px;width:3px;height:1px;background:rgba(255,255,255,0.8)"></div><div class="t" style="left:871px;top:304px;width:56px;height:17px;background:#4d4d4d"></div><div class="t" style="left:877px;top:307px;font-size:11px;color:#fff">7017.350</div><div style="position:absolute;left:871px;top:312px;width:3px;height:1px;background:rgba(255,255,255,0.8)"></div><div class="t" style="left:871px;top:339px;width:56px;height:17px;background:#0000ff"></div><div class="t" style="left:877px;top:342px;font-size:11px;color:#fff">6777.000</div><div style="position:absolute;left:871px;top:347px;width:3px;height:1px;background:rgba(255,255,255,0.8)"></div><div class="t" style="left:871px;top:391px;width:56px;height:17px;background:#ff0000"></div><div class="t" style="left:877px;top:394px;font-size:11px;color:#fff">6427.160</div><div style="position:absolute;left:871px;top:399px;width:3px;height:1px;background:rgba(255,255,255,0.8)"></div><div class="t" style="left:871px;top:440px;width:56px;height:17px;background:#0000ff"></div><div class="t" style="left:877px;top:443px;font-size:11px;color:#fff">6090.000</div><div style="position:absolute;left:871px;top:448px;width:3px;height:1px;background:rgba(255,255,255,0.8)"></div><div class="t" style="left:871px;top:465px;width:56px;height:17px;background:#2f7a22"></div><div class="t" style="left:877px;top:468px;font-size:11px;color:#fff">5920.000</div><div style="position:absolute;left:871px;top:473px;width:3px;height:1px;background:rgba(255,255,255,0.8)"></div><div style="position:absolute;left:871px;top:526px;width:56px;height:5px;background:#2f7a22;overflow:hidden"><div class="t" style="left:6px;top:3px;font-size:11px;color:#fff">5500.000</div></div>
</body></html>
